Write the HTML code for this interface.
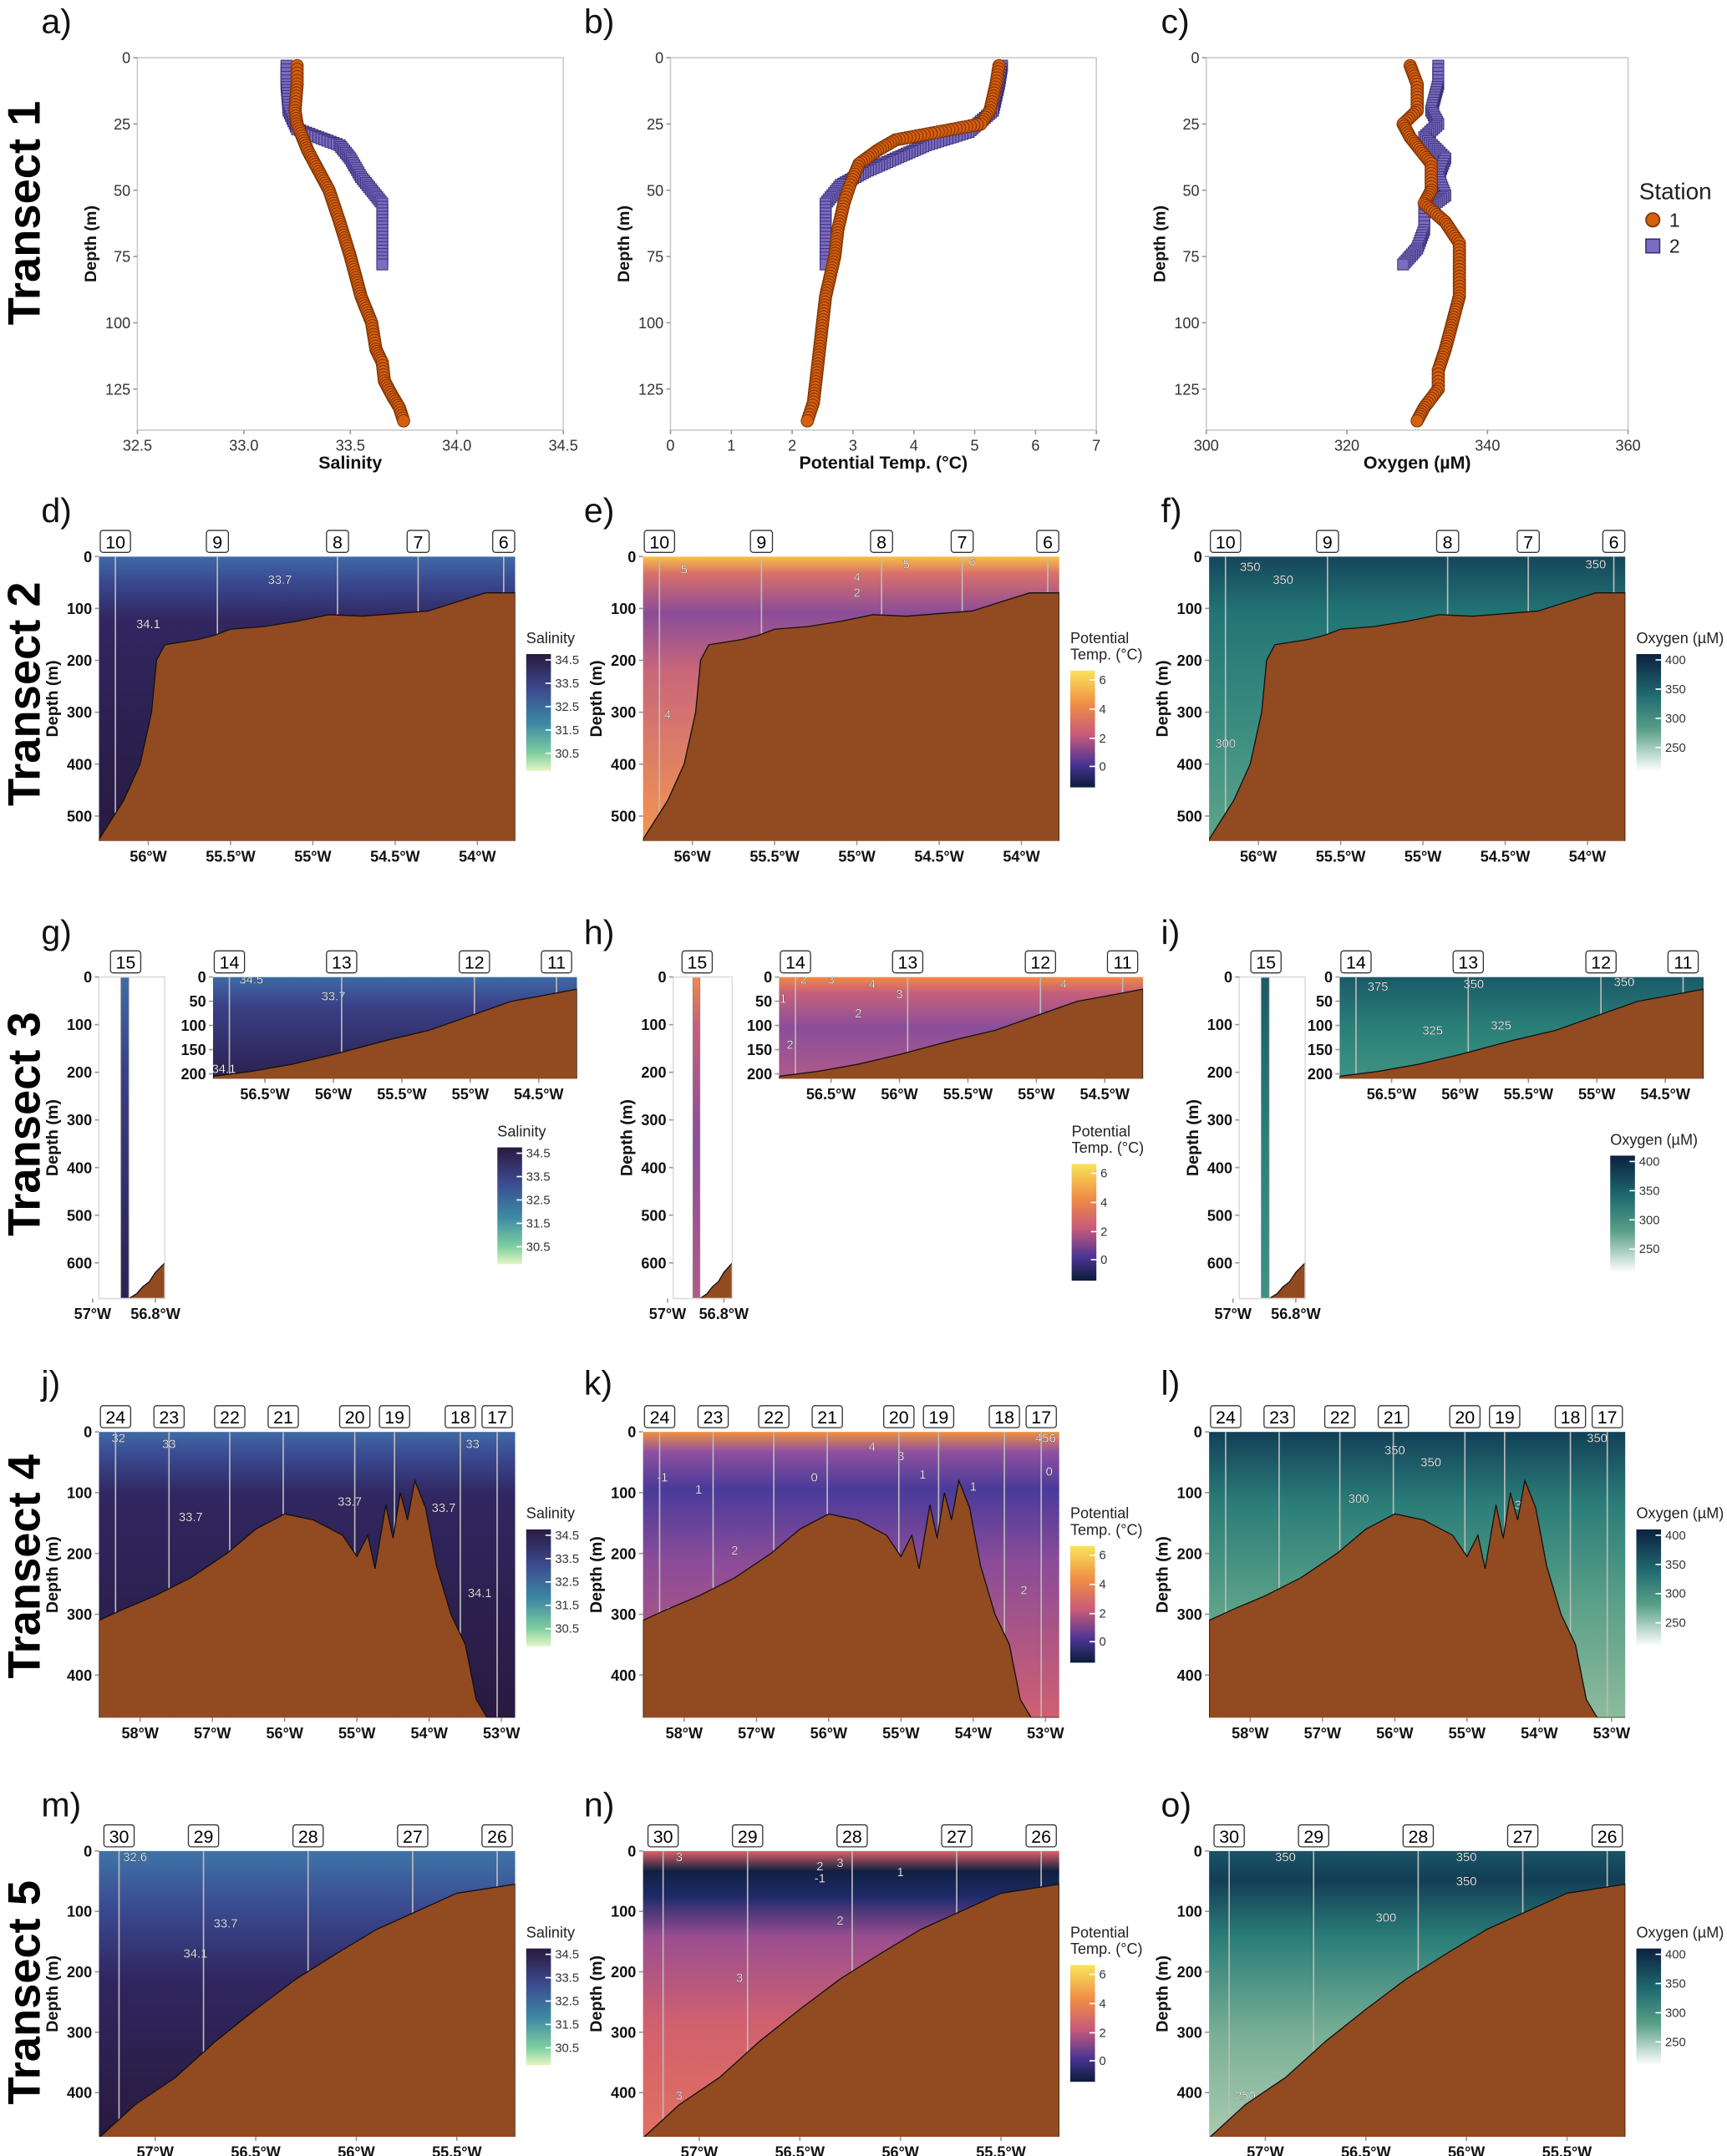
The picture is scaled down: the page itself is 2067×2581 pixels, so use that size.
<!DOCTYPE html>
<html><head><meta charset="utf-8">
<style>
html,body{margin:0;padding:0;background:#fff;}
svg{display:block;font-family:"Liberation Sans",sans-serif;}
</style></head>
<body>
<svg id="fig" width="2067" height="2581" viewBox="0 0 1257 1569" preserveAspectRatio="none" xmlns="http://www.w3.org/2000/svg">
<defs>
<linearGradient id="gSal" x1="0" y1="0" x2="0" y2="1"><stop offset="0" stop-color="#3f6aa6"/><stop offset="0.08" stop-color="#3b4b92"/><stop offset="0.22" stop-color="#312660"/><stop offset="1" stop-color="#281a40"/></linearGradient>
<linearGradient id="gTmp" x1="0" y1="0" x2="0" y2="1"><stop offset="0" stop-color="#f7c045"/><stop offset="0.06" stop-color="#d9706a"/><stop offset="0.2" stop-color="#8a4c98"/><stop offset="0.4" stop-color="#c9667a"/><stop offset="1" stop-color="#f29650"/></linearGradient>
<linearGradient id="gOxy" x1="0" y1="0" x2="0" y2="1"><stop offset="0" stop-color="#15465a"/><stop offset="0.2" stop-color="#227575"/><stop offset="0.6" stop-color="#3b8d80"/><stop offset="1" stop-color="#5fa48a"/></linearGradient>
<linearGradient id="gSal3" x1="0" y1="0" x2="0" y2="1"><stop offset="0" stop-color="#3f6aa6"/><stop offset="0.3" stop-color="#3a3f85"/><stop offset="1" stop-color="#2c2050"/></linearGradient>
<linearGradient id="gTmp3" x1="0" y1="0" x2="0" y2="1"><stop offset="0" stop-color="#f08a45"/><stop offset="0.15" stop-color="#c8607a"/><stop offset="0.5" stop-color="#8a4e9a"/><stop offset="1" stop-color="#b05a88"/></linearGradient>
<linearGradient id="gOxy3" x1="0" y1="0" x2="0" y2="1"><stop offset="0" stop-color="#1a5a68"/><stop offset="0.5" stop-color="#2a8078"/><stop offset="1" stop-color="#3e9282"/></linearGradient>
<linearGradient id="gTmp4" x1="0" y1="0" x2="0" y2="1"><stop offset="0" stop-color="#f0903e"/><stop offset="0.07" stop-color="#9050a0"/><stop offset="0.2" stop-color="#4a3a9a"/><stop offset="0.45" stop-color="#8a4c98"/><stop offset="1" stop-color="#d06070"/></linearGradient>
<linearGradient id="gOxy4" x1="0" y1="0" x2="0" y2="1"><stop offset="0" stop-color="#124058"/><stop offset="0.25" stop-color="#2a7d78"/><stop offset="0.6" stop-color="#5aa088"/><stop offset="1" stop-color="#8dbb9c"/></linearGradient>
<linearGradient id="gSal5" x1="0" y1="0" x2="0" y2="1"><stop offset="0" stop-color="#3f74a8"/><stop offset="0.2" stop-color="#3a4a90"/><stop offset="0.45" stop-color="#302660"/><stop offset="1" stop-color="#281a3e"/></linearGradient>
<linearGradient id="gTmp5" x1="0" y1="0" x2="0" y2="1"><stop offset="0" stop-color="#e06068"/><stop offset="0.07" stop-color="#102040"/><stop offset="0.16" stop-color="#1e2a6a"/><stop offset="0.3" stop-color="#9a4e90"/><stop offset="0.6" stop-color="#d0606e"/><stop offset="1" stop-color="#e27060"/></linearGradient>
<linearGradient id="gOxy5" x1="0" y1="0" x2="0" y2="1"><stop offset="0" stop-color="#1a5566"/><stop offset="0.1" stop-color="#123e56"/><stop offset="0.3" stop-color="#2a7d78"/><stop offset="0.65" stop-color="#7ab096"/><stop offset="1" stop-color="#a8cab0"/></linearGradient>
<linearGradient id="cbSal" x1="0" y1="0" x2="0" y2="1"><stop offset="0" stop-color="#2a1a3f"/><stop offset="0.3" stop-color="#3b4a8f"/><stop offset="0.6" stop-color="#3d8aa4"/><stop offset="0.85" stop-color="#7fcfa0"/><stop offset="1" stop-color="#e4f6c4"/></linearGradient>
<linearGradient id="cbTmp" x1="0" y1="0" x2="0" y2="1"><stop offset="0" stop-color="#f8e45a"/><stop offset="0.3" stop-color="#f08a45"/><stop offset="0.55" stop-color="#c85a7a"/><stop offset="0.8" stop-color="#4a3494"/><stop offset="1" stop-color="#0a1c3a"/></linearGradient>
<linearGradient id="cbOxy" x1="0" y1="0" x2="0" y2="1"><stop offset="0" stop-color="#0c2040"/><stop offset="0.35" stop-color="#1f6a70"/><stop offset="0.65" stop-color="#5aa088"/><stop offset="1" stop-color="#ffffff"/></linearGradient>
</defs>
</svg>
<script>
// ---------- profile data (Transect 1) ----------
const salDepth1=[3,10,20,25,35,50,62,75,90,100,110,115,122,128,132,137];
const salVal1=[33.25,33.25,33.24,33.25,33.3,33.4,33.45,33.5,33.55,33.6,33.62,33.65,33.66,33.7,33.73,33.75];
const salDepth2=[3,10,20,27,30,33,38,45,55,65,78];
const salVal2=[33.2,33.2,33.21,33.25,33.35,33.45,33.5,33.55,33.65,33.65,33.65];
const tmpDepth1=[3,10,20,25,28,31,35,40,48,55,65,75,90,100,110,120,130,137];
const tmpVal1=[5.4,5.35,5.25,5.1,4.4,3.7,3.4,3.1,2.95,2.85,2.75,2.7,2.55,2.5,2.45,2.4,2.35,2.25];
const tmpDepth2=[3,10,20,28,33,38,43,48,55,65,78];
const tmpVal2=[5.45,5.4,5.3,4.9,4.2,3.7,3.2,2.8,2.55,2.55,2.55];
const oxyDepth1=[3,10,20,25,30,40,50,55,62,70,80,90,100,110,118,125,132,137];
const oxyVal1=[329,330,330,328,329,332,332,331,334,336,336,336,335,334,333,333,331,330];
const oxyDepth2=[3,10,20,25,30,38,45,52,58,65,72,78];
const oxyVal2=[333,333,332,333,331,334,333,334,331,331,330,328];

// ---------- section data ----------
const t2BathLon=[-56.3,-56.15,-56.05,-55.98,-55.95,-55.9,-55.8,-55.7,-55.6,-55.5,-55.3,-55.1,-54.9,-54.7,-54.5,-54.3,-54.1,-53.95,-53.77];
const t2BathDep=[545,470,400,300,200,170,165,160,152,140,135,125,112,115,110,105,85,70,70];
const t2StLon=[-56.2,-55.58,-54.85,-54.36,-53.84];
const t2StLab=["10","9","8","7","6"];
const t3BathLon=[-56.88,-56.6,-56.3,-56.0,-55.6,-55.3,-55.0,-54.7,-54.5,-54.22];
const t3BathDep=[205,195,180,160,130,110,80,50,40,25];
const t3StLon=[-56.76,-55.94,-54.97,-54.37];
const t3StLab=["14","13","12","11"];
const t3nBathLon=[-56.885,-56.86,-56.84,-56.82,-56.8,-56.77];
const t3nBathDep=[675,665,650,640,620,600];
const t4BathLon=[-58.57,-58.2,-57.8,-57.3,-56.8,-56.4,-56.0,-55.6,-55.2,-55.0,-54.85,-54.75,-54.6,-54.5,-54.4,-54.3,-54.2,-54.05,-53.9,-53.7,-53.5,-53.35,-53.2];
const t4BathDep=[310,290,270,240,200,160,135,145,170,205,170,225,120,175,100,145,80,125,220,300,350,440,470];
const t4StLon=[-58.34,-57.6,-56.76,-56.02,-55.03,-54.48,-53.57,-53.06];
const t4StLab=["24","23","22","21","20","19","18","17"];
const t5BathLon=[-57.28,-57.1,-56.9,-56.7,-56.5,-56.3,-56.1,-55.9,-55.7,-55.5,-55.21];
const t5BathDep=[475,420,375,315,262,212,170,130,100,70,55];
const t5StLon=[-57.18,-56.76,-56.24,-55.72,-55.3];
const t5StLab=["30","29","28","27","26"];

const NS="http://www.w3.org/2000/svg";
const svg=document.getElementById('fig');
function el(tag,attrs,parent){const e=document.createElementNS(NS,tag);for(const k in attrs)e.setAttribute(k,attrs[k]);(parent||svg).appendChild(e);return e;}
function txt(x,y,s,size,opts,parent){const o=Object.assign({x:x,y:y,'font-size':size,fill:'#333'},opts||{});const t=el('text',o,parent);t.textContent=s;return t;}

const letters=[["a)",30,24],["b)",425,24],["c)",845,24],["d)",30,380],["e)",425,380],["f)",845,380],["g)",30,687],["h)",425,687],["i)",845,687],["j)",30,1015],["k)",425,1015],["l)",845,1015],["m)",30,1322],["n)",425,1322],["o)",845,1322]];
letters.forEach(l=>{const t=txt(l[1],l[2],l[0],25,{fill:'#111'});

});
const rows=[["Transect 1",155],["Transect 2",505],["Transect 3",818],["Transect 4",1140],["Transect 5",1450]];
rows.forEach((r,i)=>{const t=txt(0,0,r[0],33,{fill:'#000','font-weight':'bold','text-anchor':'middle',transform:`translate(29,${r[1]}) rotate(-90)`});

});

function profile(name,x0,x1,y0,y1,vmin,vmax,xticks,xtickFmt,xtitle,d1,v1,d2,v2){
  const g=el('g',{});
  
  
  const dmax=140.5;
  const sx=v=>x0+(v-vmin)/(vmax-vmin)*(x1-x0);
  const sy=d=>y0+d/dmax*(y1-y0);
  el('rect',{x:x0,y:y0,width:x1-x0,height:y1-y0,fill:'none',stroke:'#ccc','stroke-width':1},g);
  [0,25,50,75,100,125].forEach(d=>{el('line',{x1:x0-3,x2:x0,y1:sy(d),y2:sy(d),stroke:'#999'},g);txt(x0-5,sy(d)+4,String(d),11,{'text-anchor':'end'},g);});
  xticks.forEach(v=>{el('line',{x1:sx(v),x2:sx(v),y1:y1,y2:y1+3,stroke:'#999'},g);txt(sx(v),y1+15,xtickFmt(v),11,{'text-anchor':'middle'},g);});
  txt(0,0,'Depth (m)',12,{fill:'#111','font-weight':'bold','text-anchor':'middle',transform:`translate(${x0-30},${(y0+y1)/2}) rotate(-90)`},g);
  txt((x0+x1)/2,y1+28,xtitle,13,{fill:'#111','font-weight':'bold','text-anchor':'middle'},g);
  function dense(d,v){const out=[];for(let i=0;i<d.length-1;i++){const n=Math.max(2,Math.round(Math.abs(sy(d[i+1])-sy(d[i]))/2.5)+Math.round(Math.abs(sx(v[i+1])-sx(v[i]))/3));for(let k=0;k<n;k++){const f=k/n;out.push([v[i]+(v[i+1]-v[i])*f,d[i]+(d[i+1]-d[i])*f]);}}out.push([v[v.length-1],d[d.length-1]]);return out;}
  dense(d2,v2).forEach(p=>{const r=el('rect',{x:sx(p[0])-4,y:sy(p[1])-4,width:8,height:8,fill:'#7b6cc0',stroke:'#3a2f7a','stroke-width':0.6},g);
    
    });
  dense(d1,v1).forEach(p=>{const c=el('circle',{cx:sx(p[0]),cy:sy(p[1]),r:4.5,fill:'#d45f10',stroke:'#7a3000','stroke-width':0.6},g);
    
    });
}
profile('salinity-profile',100,410,42,313,32.5,34.5,[32.5,33,33.5,34,34.5],v=>v.toFixed(1),'Salinity',salDepth1,salVal1,salDepth2,salVal2);
profile('temperature-profile',488,798,42,313,0,7,[0,1,2,3,4,5,6,7],v=>String(v),'Potential Temp. (°C)',tmpDepth1,tmpVal1,tmpDepth2,tmpVal2);
profile('oxygen-profile',878,1185,42,313,300,360,[300,320,340,360],v=>String(v),'Oxygen (µM)',oxyDepth1,oxyVal1,oxyDepth2,oxyVal2);
const lg=el('g',{});


txt(1193,145,'Station',17,{fill:'#222'},lg);
el('circle',{cx:1203,cy:160,r:5,fill:'#d45f10',stroke:'#7a3000'},lg);txt(1215,165,'1',14,{fill:'#222'},lg);
el('rect',{x:1198,y:174,width:10,height:10,fill:'#7b6cc0',stroke:'#3a2f7a'},lg);txt(1215,184,'2',14,{fill:'#222'},lg);

let clipId=0;
function section(name,o){
  const g=el('g',{});
  
  
  const sx=l=>o.x0+(l-o.lonMin)/(o.lonMax-o.lonMin)*(o.x1-o.x0);
  const sy=d=>o.y0+d/o.dMax*(o.y1-o.y0);
  const id='clip'+(clipId++);
  const cp=el('clipPath',{id:id},g);el('rect',{x:o.x0,y:o.y0,width:o.x1-o.x0,height:o.y1-o.y0},cp);
  const inner=el('g',{'clip-path':`url(#${id})`},g);
  if(o.strip){const a=sx(o.strip[0]),b=sx(o.strip[1]);el('rect',{x:a,y:o.y0,width:b-a,height:o.y1-o.y0,fill:`url(#${o.grad})`,stroke:'#888','stroke-width':0.5},inner);
    el('rect',{x:o.x0,y:o.y0,width:o.x1-o.x0,height:o.y1-o.y0,fill:'none',stroke:'#ddd'},g);}
  else el('rect',{x:o.x0,y:o.y0,width:o.x1-o.x0,height:o.y1-o.y0,fill:`url(#${o.grad})`},inner);
  (o.labels||[]).forEach(l=>{txt(sx(l[0]),sy(l[1])+3,l[2],9,{fill:'#fff','text-anchor':'middle',stroke:'#222','stroke-width':0.15},inner);});
  if(!o.strip) o.stLon.forEach(l=>{el('line',{x1:sx(l),x2:sx(l),y1:o.y0,y2:o.y1,stroke:'#bbb','stroke-width':1},inner);});
  let pts=o.bLon.map((l,i)=>sx(l)+','+sy(o.bDep[i]));
  pts.push(sx(o.bLon[o.bLon.length-1])+','+(o.y1+5));pts.push(sx(o.bLon[0])+','+(o.y1+5));
  if(o.bLon[o.bLon.length-1]<o.lonMax){pts.splice(o.bLon.length,0,(o.x1+5)+','+sy(o.bDep[o.bDep.length-1]),(o.x1+5)+','+(o.y1+5));}
  const bp=el('polygon',{points:pts.join(' '),fill:'#924a21',stroke:'#111','stroke-width':0.8},inner);
  
  
  o.stLon.forEach((l,i)=>{const x=sx(l);const w=o.stLab[i].length>1?22:16;
    const b=el('rect',{x:x-w/2,y:o.y0-19,width:w,height:16,rx:2,fill:'#fff',stroke:'#333','stroke-width':0.8},g);
    
    
    txt(x,o.y0-6,o.stLab[i],13,{fill:'#000','text-anchor':'middle'},g);});
  o.yt.forEach(d=>{el('line',{x1:o.x0-3,x2:o.x0,y1:sy(d),y2:sy(d),stroke:'#999'},g);txt(o.x0-5,sy(d)+4,String(d),11,{'text-anchor':'end',fill:'#111','font-weight':'bold'},g);});
  o.xt.forEach(l=>{el('line',{x1:sx(l),x2:sx(l),y1:o.y1,y2:o.y1+3,stroke:'#999'},g);txt(sx(l),o.y1+15,Math.abs(l)+'°W',11,{'text-anchor':'middle',fill:'#111','font-weight':'bold'},g);});
  if(o.ytitle!==false)txt(0,0,'Depth (m)',12,{fill:'#111','font-weight':'bold','text-anchor':'middle',transform:`translate(${o.x0-30},${(o.y0+o.y1)/2}) rotate(-90)`},g);
}
function colorbar(name,x,y,title,grad,ticks){
  const g=el('g',{});
  
  
  const lines=title.split('|');
  lines.forEach((s,i)=>txt(x,y+i*12,s,11,{fill:'#222'},g));
  const top=y+lines.length*12-4;
  el('rect',{x:x,y:top,width:18,height:85,fill:`url(#${grad})`},g);
  ticks.forEach(t=>{const yy=top+t[1]*85;el('line',{x1:x+14,x2:x+18,y1:yy,y2:yy,stroke:'#fff'},g);txt(x+21,yy+3,t[0],9,{fill:'#333'},g);});
}
const cols=[0,396,808];
const grads2=['gSal','gTmp','gOxy'],grads3=['gSal3','gTmp3','gOxy3'],grads4=['gSal','gTmp4','gOxy4'],grads5=['gSal5','gTmp5','gOxy5'];
const vars=['salinity','temperature','oxygen'];
const lab2=[[[-55.2,45,'33.7'],[-56.0,130,'34.1']],[[-56.05,25,'5'],[-55.0,40,'4'],[-55.0,70,'2'],[-55.8,185,'3'],[-56.15,305,'4'],[-54.7,15,'5'],[-54.3,10,'6']],[[-56.05,20,'350'],[-55.85,45,'350'],[-53.95,15,'350'],[-56.2,360,'300']]];
const lab3=[[[-56.6,5,'34.5'],[-56.0,40,'33.7'],[-56.8,190,'34.1']],[[-56.7,5,'2'],[-56.5,5,'3'],[-56.2,15,'4'],[-56.0,35,'3'],[-56.3,75,'2'],[-56.85,45,'1'],[-56.8,140,'2'],[-54.8,15,'4']],[[-56.6,20,'375'],[-55.9,15,'350'],[-56.2,110,'325'],[-55.7,100,'325'],[-54.8,10,'350']]];
const lab4=[[[-58.3,10,'32'],[-57.6,20,'33'],[-57.3,140,'33.7'],[-56.0,170,'34.1'],[-55.1,115,'33.7'],[-53.8,125,'33.7'],[-53.4,20,'33'],[-53.3,265,'34.1']],[[-58.3,75,'-1'],[-57.8,95,'1'],[-56.2,75,'0'],[-57.3,195,'2'],[-58.2,295,'3'],[-55.4,25,'4'],[-55.0,40,'3'],[-54.7,70,'1'],[-54.0,90,'1'],[-53.3,260,'2'],[-52.95,65,'0'],[-53.0,10,'456']],[[-56.0,30,'350'],[-55.5,50,'350'],[-56.5,110,'300'],[-54.2,120,'300'],[-53.2,10,'350']]];
const lab5=[[[-57.1,10,'32.6'],[-56.65,120,'33.7'],[-56.8,170,'34.1']],[[-57.1,10,'3'],[-56.4,25,'2'],[-56.3,20,'3'],[-56.4,45,'-1'],[-56.0,35,'1'],[-56.3,115,'2'],[-56.8,210,'3'],[-57.1,405,'3']],[[-56.0,10,'350'],[-56.0,50,'350'],[-56.4,110,'300'],[-57.1,405,'250'],[-56.9,10,'350']]];
const cbInfo=[['Salinity','cbSal',[['34.5',0.05],['33.5',0.25],['32.5',0.45],['31.5',0.65],['30.5',0.85]]],['Potential|Temp. (°C)','cbTmp',[['6',0.08],['4',0.33],['2',0.58],['0',0.82]]],['Oxygen (µM)','cbOxy',[['400',0.05],['350',0.3],['300',0.55],['250',0.8]]]];
for(let c=0;c<3;c++){
  const dx=cols[c];
  section('section-t2-'+vars[c],{x0:72+dx,x1:375+dx,y0:405,y1:612,lonMin:-56.3,lonMax:-53.77,dMax:548,grad:grads2[c],bLon:t2BathLon,bDep:t2BathDep,stLon:t2StLon,stLab:t2StLab,yt:[0,100,200,300,400,500],xt:[-56,-55.5,-55,-54.5,-54],labels:lab2[c]});
  colorbar('colorbar-t2-'+vars[c],383+dx,468,cbInfo[c][0],cbInfo[c][1],cbInfo[c][2]);
  const ndx=[0,418,830][c];
  section('section-t3-narrow-'+vars[c],{x0:72+ndx,x1:120+ndx-(c==1?5:0),y0:711,y1:945,lonMin:-56.98,lonMax:-56.77,dMax:675,grad:grads3[c],bLon:t3nBathLon,bDep:t3nBathDep,stLon:[-56.895],stLab:['15'],yt:[0,100,200,300,400,500,600],xt:[-57,-56.8],strip:[-56.91,-56.885],labels:[]});
  const idx=[0,412,820][c];
  section('section-t3-'+vars[c],{x0:155+idx,x1:420+idx,y0:711,y1:785,lonMin:-56.88,lonMax:-54.22,dMax:210,grad:grads3[c],bLon:t3BathLon,bDep:t3BathDep,stLon:t3StLon,stLab:t3StLab,yt:[0,50,100,150,200],xt:[-56.5,-56,-55.5,-55,-54.5],labels:lab3[c],ytitle:false});
  colorbar('colorbar-t3-'+vars[c],[362,780,1172][c],[827,827,833][c],cbInfo[c][0],cbInfo[c][1],cbInfo[c][2]);
  section('section-t4-'+vars[c],{x0:72+dx,x1:375+dx,y0:1042,y1:1250,lonMin:-58.57,lonMax:-52.81,dMax:470,grad:grads4[c],bLon:t4BathLon,bDep:t4BathDep,stLon:t4StLon,stLab:t4StLab,yt:[0,100,200,300,400],xt:[-58,-57,-56,-55,-54,-53],labels:lab4[c]});
  colorbar('colorbar-t4-'+vars[c],383+dx,1105,cbInfo[c][0],cbInfo[c][1],cbInfo[c][2]);
  section('section-t5-'+vars[c],{x0:72+dx,x1:375+dx,y0:1347,y1:1555,lonMin:-57.28,lonMax:-55.21,dMax:473,grad:grads5[c],bLon:t5BathLon,bDep:t5BathDep,stLon:t5StLon,stLab:t5StLab,yt:[0,100,200,300,400],xt:[-57,-56.5,-56,-55.5],labels:lab5[c]});
  colorbar('colorbar-t5-'+vars[c],383+dx,1410,cbInfo[c][0],cbInfo[c][1],cbInfo[c][2]);
}
</script>
</body></html>
